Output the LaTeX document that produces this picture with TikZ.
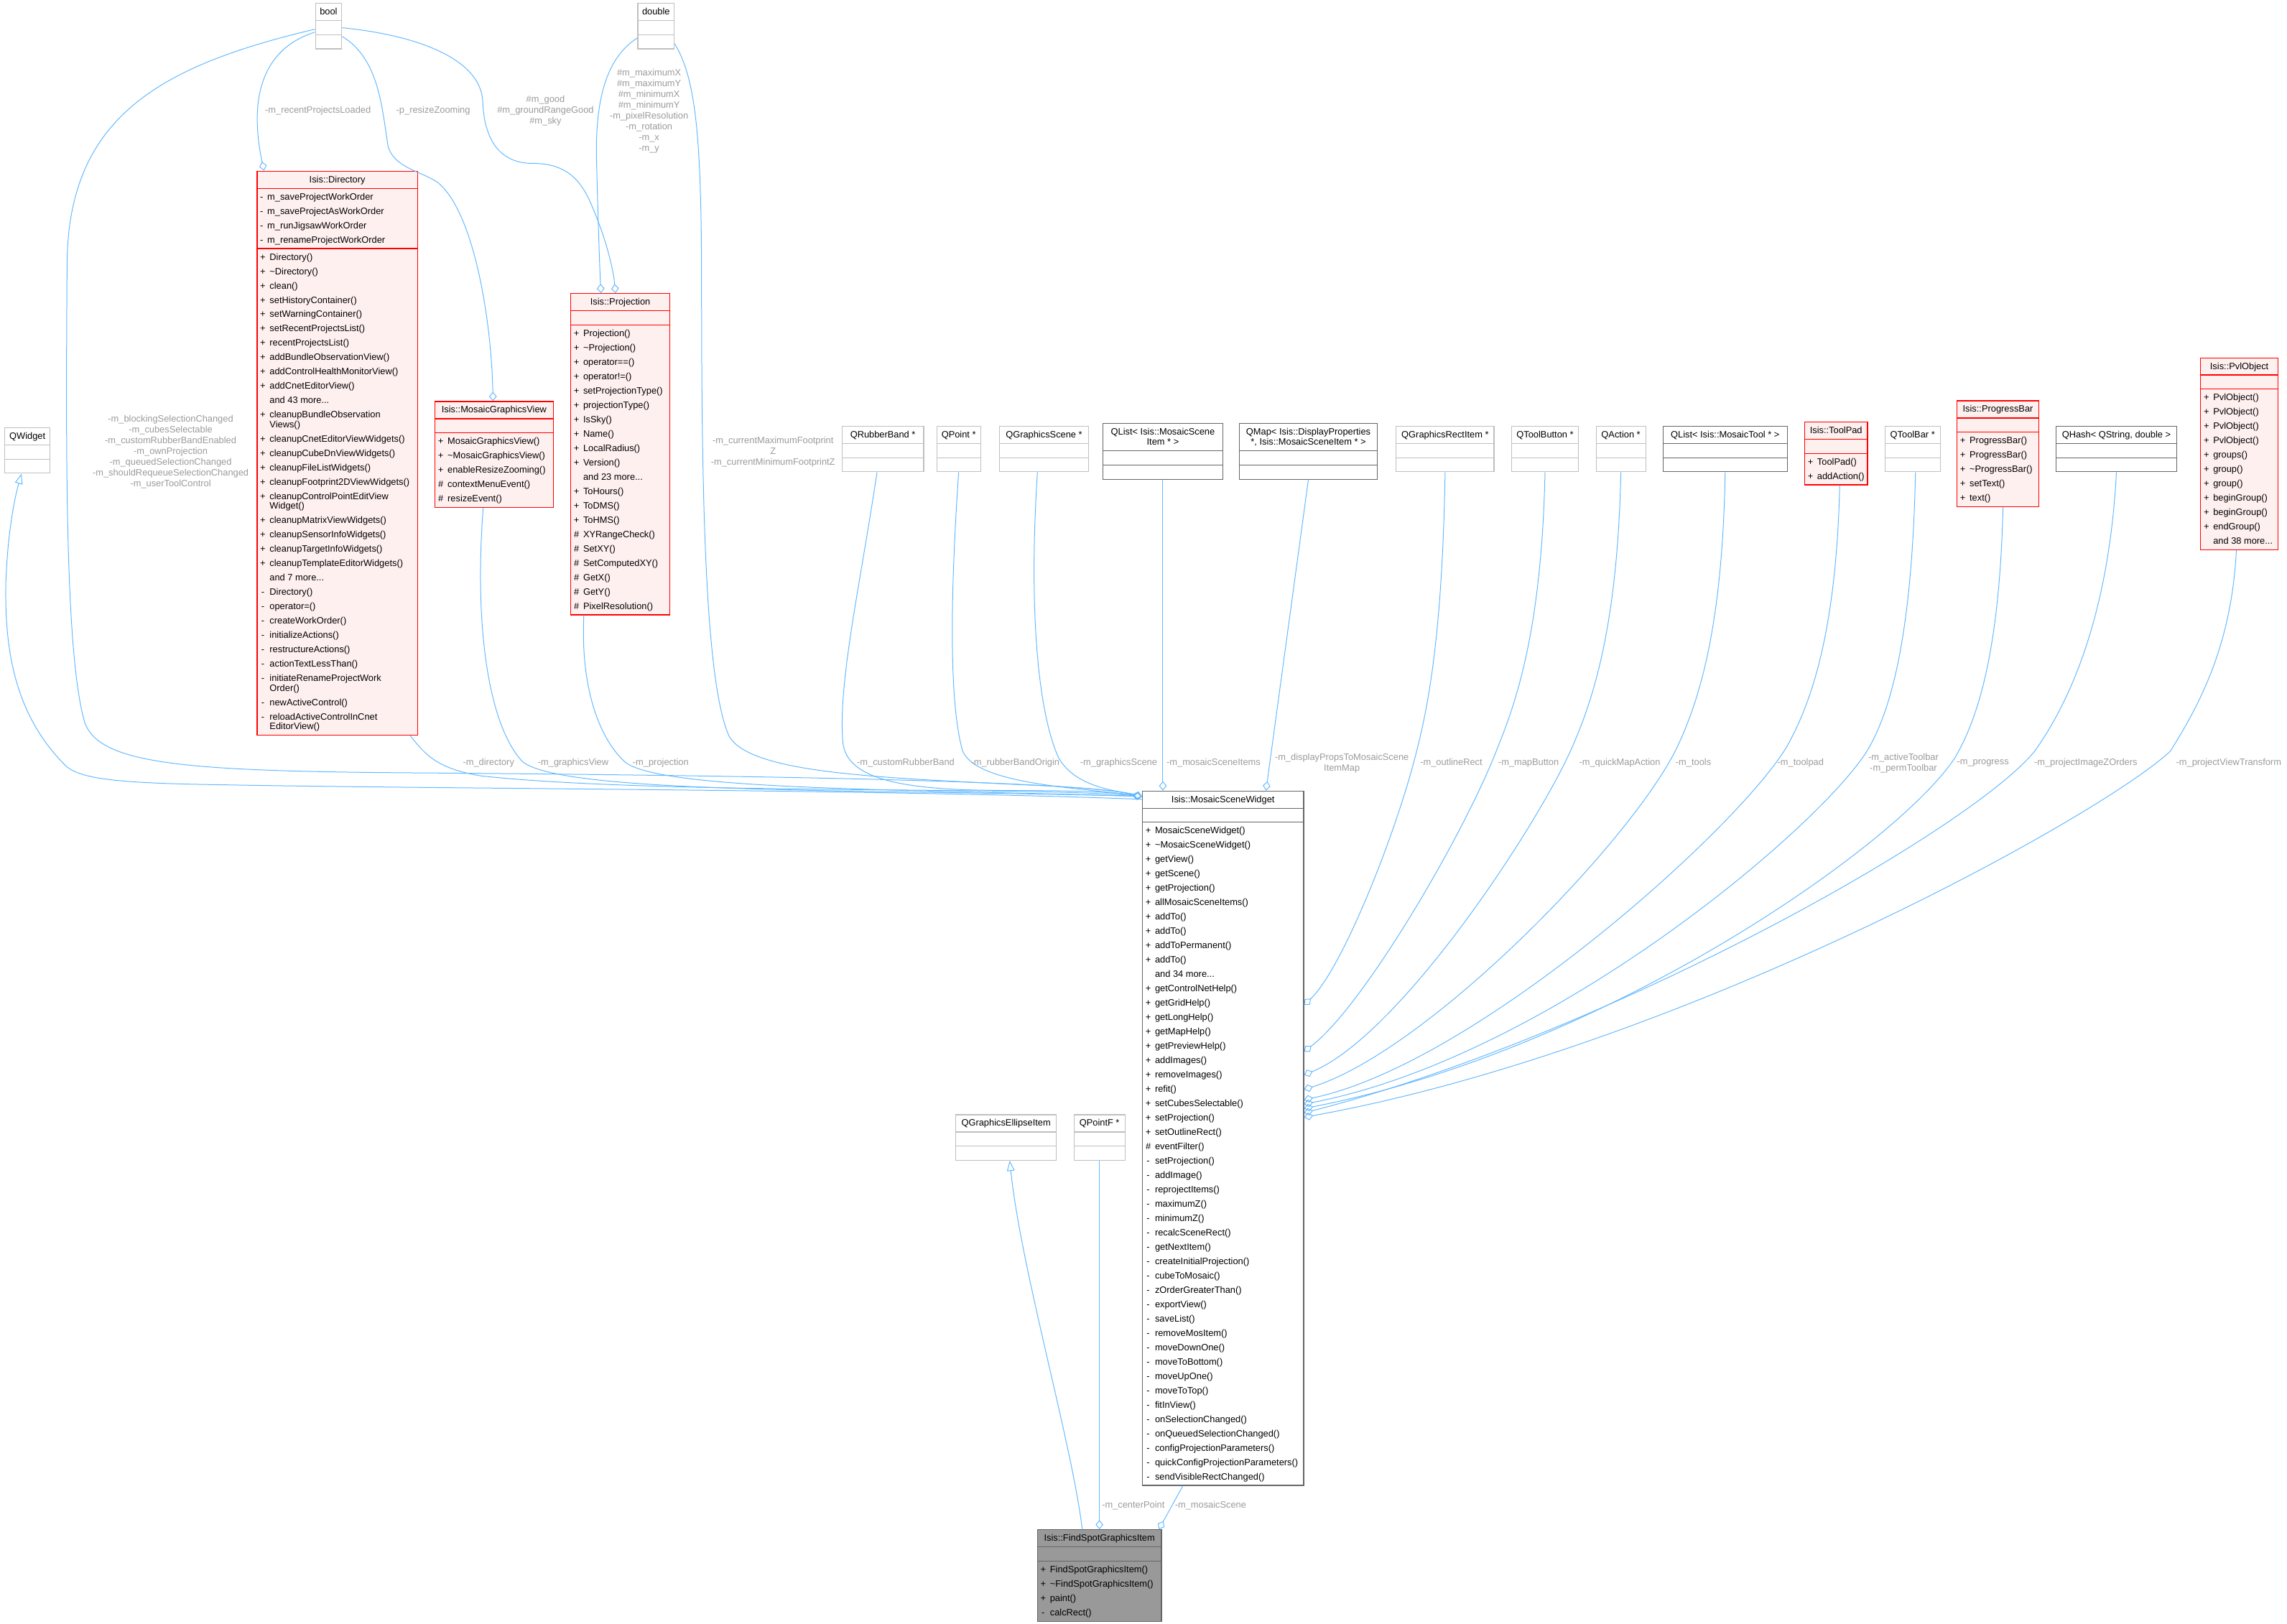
\documentclass[tikz,border=0pt]{standalone}
\usepackage{fontspec}
\setmainfont{Liberation Sans}
\usetikzlibrary{shapes.multipart,arrows.meta,calc}
\definecolor{edgeblue}{HTML}{63B8FF}
\definecolor{lblgrey}{HTML}{9A9A9A}
\definecolor{redfill}{HTML}{FFF0F0}
\definecolor{greyline}{HTML}{BFBFBF}
\definecolor{darkline}{HTML}{666666}
\definecolor{focusfill}{HTML}{999999}
\newcommand{\members}[1]{\begin{tabular}{@{}c@{\hspace{4pt}}l@{}}#1\end{tabular}}
\newcommand{\ctitle}[1]{\begin{tabular}{@{}c@{}}#1\end{tabular}}
\begin{document}
\begin{tikzpicture}[
      x=0.05cm, y=-0.05cm,
      cls/.style={rectangle split, rectangle split parts=3, draw, anchor=north west,
        line width=0.8pt, inner xsep=3pt, inner ysep=1pt,
        rectangle split part align={center,left,left},
        rectangle split empty part height=11pt, rectangle split empty part depth=0pt,
        font=\fontsize{9}{14}\selectfont, minimum width=#1},
      redcls/.style={cls=#1, draw=red, fill=redfill},
      greycls/.style={cls=#1, draw=greyline, fill=white},
      darkcls/.style={cls=#1, draw=darkline, fill=white},
      focuscls/.style={cls=#1, draw=darkline, fill=focusfill},
      conn/.style={draw=edgeblue, line width=0.7pt},
      agg/.style={conn, -{Diamond[open,length=9pt,width=7.5pt]}},
      inh/.style={conn, -{Triangle[open,length=10pt,width=7.5pt]}},
      lbl/.style={text=lblgrey, font=\fontsize{9}{10.5}\selectfont, align=center, inner sep=0pt},
    ]
      \useasboundingbox (0,0) rectangle (1568,1113);

      \node[greycls=0.9cm] (boolT) at (216,2) {\ctitle{bool}\nodepart{two}\nodepart{three}};
      \node[greycls=1.25cm] (doubleT) at (437,2) {\ctitle{double}\nodepart{two}\nodepart{three}};
      \node[greycls=1.55cm] (qwidget) at (3,293) {\ctitle{QWidget}\nodepart{two}\nodepart{three}};

      \node[redcls=5.5cm] (directory) at (176,117) {\ctitle{Isis::Directory}
        \nodepart{two}\members{- & m\_saveProjectWorkOrder\\ - & m\_saveProjectAsWorkOrder\\
          - & m\_runJigsawWorkOrder\\ - & m\_renameProjectWorkOrder}
        \nodepart{three}\members{+ & Directory()\\ + & \textasciitilde Directory()\\ + & clean()\\
          + & setHistoryContainer()\\ + & setWarningContainer()\\ + & setRecentProjectsList()\\
          + & recentProjectsList()\\ + & addBundleObservationView()\\ + & addControlHealthMonitorView()\\
          + & addCnetEditorView()\\ & and 43 more...\\ + & cleanupBundleObservation\\[-4.5pt] & Views()\\
          + & cleanupCnetEditorViewWidgets()\\ + & cleanupCubeDnViewWidgets()\\ + & cleanupFileListWidgets()\\
          + & cleanupFootprint2DViewWidgets()\\ + & cleanupControlPointEditView\\[-4.5pt] & Widget()\\
          + & cleanupMatrixViewWidgets()\\ + & cleanupSensorInfoWidgets()\\ + & cleanupTargetInfoWidgets()\\
          + & cleanupTemplateEditorWidgets()\\ & and 7 more...\\ - & Directory()\\ - & operator=()\\
          - & createWorkOrder()\\ - & initializeActions()\\ - & restructureActions()\\
          - & actionTextLessThan()\\ - & initiateRenameProjectWork\\[-4.5pt] & Order()\\
          - & newActiveControl()\\ - & reloadActiveControlInCnet\\[-4.5pt] & EditorView()}};

      \node[redcls=4.05cm] (graphicsview) at (298,275) {\ctitle{Isis::MosaicGraphicsView}
        \nodepart{two}\nodepart{three}\members{+ & MosaicGraphicsView()\\ + & \textasciitilde MosaicGraphicsView()\\
          + & enableResizeZooming()\\ \# & contextMenuEvent()\\ \# & resizeEvent()}};

      \node[redcls=3.4cm] (projection) at (391,201) {\ctitle{Isis::Projection}
        \nodepart{two}\nodepart{three}\members{+ & Projection()\\ + & \textasciitilde Projection()\\
          + & operator==()\\ + & operator!=()\\ + & setProjectionType()\\ + & projectionType()\\
          + & IsSky()\\ + & Name()\\ + & LocalRadius()\\ + & Version()\\ & and 23 more...\\
          + & ToHours()\\ + & ToDMS()\\ + & ToHMS()\\ \# & XYRangeCheck()\\ \# & SetXY()\\
          \# & SetComputedXY()\\ \# & GetX()\\ \# & GetY()\\ \# & PixelResolution()}};

      \node[greycls=2.8cm] (rubberband) at (577,292) {\ctitle{QRubberBand *}\nodepart{two}\nodepart{three}};
      \node[greycls=1.5cm] (qpoint) at (642,292) {\ctitle{QPoint *}\nodepart{two}\nodepart{three}};
      \node[greycls=3.05cm] (gscene) at (685,292) {\ctitle{QGraphicsScene *}\nodepart{two}\nodepart{three}};
      \node[darkcls=4.1cm] (sceneitems) at (756,290) {\ctitle{QList< Isis::MosaicScene\\[-4pt]Item * >}\nodepart{two}\nodepart{three}};
      \node[darkcls=4.725cm] (dispmap) at (849.5,290) {\ctitle{QMap< Isis::DisplayProperties\\[-4pt]*, Isis::MosaicSceneItem * >}\nodepart{two}\nodepart{three}};
      \node[greycls=3.35cm] (rectitem) at (957,292) {\ctitle{QGraphicsRectItem *}\nodepart{two}\nodepart{three}};
      \node[greycls=2.3cm] (toolbutton) at (1036,292) {\ctitle{QToolButton *}\nodepart{two}\nodepart{three}};
      \node[greycls=1.7cm] (qaction) at (1094,292) {\ctitle{QAction *}\nodepart{two}\nodepart{three}};
      \node[darkcls=4.25cm] (toollist) at (1140,292) {\ctitle{QList< Isis::MosaicTool * >}\nodepart{two}\nodepart{three}};
      \node[redcls=2.15cm] (toolpad) at (1237,289) {\ctitle{Isis::ToolPad}
        \nodepart{two}\nodepart{three}\members{+ & ToolPad()\\ + & addAction()}};
      \node[greycls=1.9cm] (toolbar) at (1292,292) {\ctitle{QToolBar *}\nodepart{two}\nodepart{three}};
      \node[redcls=2.8cm] (progressbar) at (1341.5,274.5) {\ctitle{Isis::ProgressBar}
        \nodepart{two}\nodepart{three}\members{+ & ProgressBar()\\ + & ProgressBar()\\
          + & \textasciitilde ProgressBar()\\ + & setText()\\ + & text()}};
      \node[darkcls=4.125cm] (zorders) at (1409.5,292) {\ctitle{QHash< QString, double >}\nodepart{two}\nodepart{three}};
      \node[redcls=2.65cm] (pvlobject) at (1508.5,245) {\ctitle{Isis::PvlObject}
        \nodepart{two}\nodepart{three}\members{+ & PvlObject()\\ + & PvlObject()\\ + & PvlObject()\\
          + & PvlObject()\\ + & groups()\\ + & group()\\ + & group()\\ + & beginGroup()\\
          + & beginGroup()\\ + & endGroup()\\ & and 38 more...}};

      \node[darkcls=5.525cm] (scenewidget) at (783,542) {\ctitle{Isis::MosaicSceneWidget}
        \nodepart{two}\nodepart{three}\members{+ & MosaicSceneWidget()\\ + & \textasciitilde MosaicSceneWidget()\\
          + & getView()\\ + & getScene()\\ + & getProjection()\\ + & allMosaicSceneItems()\\
          + & addTo()\\ + & addTo()\\ + & addToPermanent()\\ + & addTo()\\ & and 34 more...\\
          + & getControlNetHelp()\\ + & getGridHelp()\\ + & getLongHelp()\\ + & getMapHelp()\\
          + & getPreviewHelp()\\ + & addImages()\\ + & removeImages()\\ + & refit()\\
          + & setCubesSelectable()\\ + & setProjection()\\ + & setOutlineRect()\\ \# & eventFilter()\\
          - & setProjection()\\ - & addImage()\\ - & reprojectItems()\\ - & maximumZ()\\ - & minimumZ()\\
          - & recalcSceneRect()\\ - & getNextItem()\\ - & createInitialProjection()\\ - & cubeToMosaic()\\
          - & zOrderGreaterThan()\\ - & exportView()\\ - & saveList()\\ - & removeMosItem()\\
          - & moveDownOne()\\ - & moveToBottom()\\ - & moveUpOne()\\ - & moveToTop()\\ - & fitInView()\\
          - & onSelectionChanged()\\ - & onQueuedSelectionChanged()\\ - & configProjectionParameters()\\
          - & quickConfigProjectionParameters()\\ - & sendVisibleRectChanged()}};

      \node[greycls=3.45cm] (ellipseitem) at (655,764) {\ctitle{QGraphicsEllipseItem}\nodepart{two}\nodepart{three}};
      \node[greycls=1.75cm] (qpointf) at (736,764) {\ctitle{QPointF *}\nodepart{two}\nodepart{three}};
      \node[focuscls=4.25cm] (findspot) at (711,1048.5) {\ctitle{Isis::FindSpotGraphicsItem}
        \nodepart{two}\nodepart{three}\members{+ & FindSpotGraphicsItem()\\ + & \textasciitilde FindSpotGraphicsItem()\\
          + & paint()\\ - & calcRect()}};

      \draw[agg] ($(boolT.north west)+(0,20)$) .. controls (175,35) and (172,75) .. ($(directory.north west)+(5,0)$);
      \draw[agg] ($(boolT.north east)+(0,23)$) .. controls (260,40) and (262,75) .. (266,100)
        .. controls (270,115) and (288,117) .. (300,125) .. controls (325,145) and (337,220) .. ($(graphicsview.north west)+(40,0)$);
      \draw[agg] ($(boolT.north east)+(0,17)$) .. controls (285,24) and (330,40) .. (331,70)
        .. controls (332,95) and (342,112) .. (365,112) .. controls (385,112) and (396,120) .. (404,137)
        .. controls (413,157) and (420,180) .. ($(projection.north west)+(31,0)$);
      \draw[agg] ($(doubleT.north west)+(0,24)$) .. controls (415,40) and (408,70) .. (409,110)
        .. controls (410,150) and (411,180) .. ($(projection.north west)+(21,0)$);
      \draw[agg] ($(doubleT.north east)+(0,28)$) .. controls (478,55) and (481,100) .. (481,200)
        .. controls (481,350) and (484,470) .. (500,505) .. controls (515,530) and (600,533) .. (700,538)
        .. controls (750,540) and (770,543) .. ($(scenewidget.north west)+(0,4)$);
      \draw[agg] ($(boolT.north west)+(0,18)$) .. controls (110,45) and (47,80) .. (46,180)
        .. controls (45,320) and (45,450) .. (58,495) .. controls (68,525) and (130,529) .. (300,530)
        .. controls (550,532) and (740,536) .. ($(scenewidget.north west)+(0,4)$);
      \draw[inh] ($(scenewidget.north west)+(0,6)$) .. controls (600,541) and (300,541) .. (150,538)
        .. controls (80,537) and (55,534) .. (45,525) .. controls (12,492) and (3,450) .. (4,400)
        .. controls (5,370) and (9,345) .. ($(qwidget.south)+(-4,0)$);
      \draw[agg] ($(directory.south)+(50,0)$) .. controls (292,518) and (300,527) .. (330,532)
        .. controls (450,545) and (700,539) .. ($(scenewidget.north west)+(0,4)$);
      \draw[agg] ($(graphicsview.south)+(-7.5,0)$) .. controls (325,430) and (335,497) .. (358,522)
        .. controls (385,545) and (600,541) .. ($(scenewidget.north west)+(0,4)$);
      \draw[agg] ($(projection.south)+(-25,0)$) .. controls (398,470) and (410,505) .. (428,522)
        .. controls (450,542) and (620,541) .. ($(scenewidget.north west)+(0,4)$);
      \draw[agg] ($(rubberband.south)+(-4,0)$) .. controls (590,400) and (574,470) .. (578,510)
        .. controls (582,540) and (640,542) .. (700,542) .. controls (750,542) and (770,544) .. ($(scenewidget.north west)+(0,4)$);
      \draw[agg] (qpoint.south) .. controls (652,400) and (650,480) .. (660,515)
        .. controls (670,538) and (740,540) .. ($(scenewidget.north west)+(0,4)$);
      \draw[agg] ($(gscene.south)+(-4.5,0)$) .. controls (705,420) and (712,490) .. (726,520)
        .. controls (738,540) and (765,542) .. ($(scenewidget.north west)+(0,4)$);
      \draw[agg] (sceneitems.south) -- (sceneitems.south |- scenewidget.north);
      \draw[agg] (dispmap.south) -- ($(scenewidget.north west)+(85,0)$);

      \draw[agg] (rectitem.south) .. controls (989,430) and (980,480) .. (972,512)
        .. controls (958,570) and (920,665) .. ($(scenewidget.north east)+(0,147)$);
      \draw[agg] (toolbutton.south) .. controls (1057,430) and (1040,480) .. (1027,512)
        .. controls (1005,570) and (935,690) .. ($(scenewidget.north east)+(0,179)$);
      \draw[agg] (qaction.south) .. controls (1109,430) and (1092,480) .. (1078,512)
        .. controls (1055,565) and (960,710) .. ($(scenewidget.north east)+(0,195)$);
      \draw[agg] (toollist.south) .. controls (1181,430) and (1165,480) .. (1150,512)
        .. controls (1120,575) and (980,720) .. ($(scenewidget.north east)+(0,205)$);
      \draw[agg] ($(toolpad.south)+(2.5,0)$) .. controls (1259,430) and (1243,480) .. (1225,512)
        .. controls (1190,570) and (1010,730) .. ($(scenewidget.north east)+(0,212)$);
      \draw[agg] ($(toolbar.south)+(2,0)$) .. controls (1311,430) and (1298,485) .. (1280,515)
        .. controls (1245,570) and (1060,725) .. ($(scenewidget.north east)+(0,215)$);
      \draw[agg] ($(progressbar.south)+(3.5,0)$) .. controls (1371,440) and (1358,490) .. (1340,520)
        .. controls (1300,580) and (1100,720) .. ($(scenewidget.north east)+(0,218)$);
      \draw[agg] (zorders.south) .. controls (1446,420) and (1420,480) .. (1395,515)
        .. controls (1350,570) and (1100,710) .. ($(scenewidget.north east)+(0,221)$);
      \draw[agg] ($(pvlobject.south)+(-2,0)$) .. controls (1530,440) and (1510,480) .. (1488,515)
        .. controls (1440,560) and (1150,720) .. ($(scenewidget.north east)+(0,224)$);

      \draw[inh] ($(findspot.north west)+(31,0)$) .. controls (735,990) and (700,870) .. ($(ellipseitem.south)+(2.5,0)$);
      \draw[agg] (qpointf.south) -- (qpointf.south |- findspot.north);
      \draw[agg] ($(scenewidget.south west)+(28,0)$) -- ($(findspot.north east)+(-2,0)$);

      \node[lbl] (l-recent) at (218,76) {-m\_recentProjectsLoaded};
      \node[lbl] (l-resize) at (297,76) {-p\_resizeZooming};
      \node[lbl] (l-good) at (374,76) {\#m\_good\\\#m\_groundRangeGood\\\#m\_sky};
      \node[lbl] (l-extent) at (445,76) {\#m\_maximumX\\\#m\_maximumY\\\#m\_minimumX\\\#m\_minimumY\\-m\_pixelResolution\\-m\_rotation\\-m\_x\\-m\_y};
      \node[lbl] (l-flags) at (117,310) {-m\_blockingSelectionChanged\\-m\_cubesSelectable\\-m\_customRubberBandEnabled\\-m\_ownProjection\\-m\_queuedSelectionChanged\\-m\_shouldRequeueSelectionChanged\\-m\_userToolControl};
      \node[lbl] (l-footprint) at (530,310) {-m\_currentMaximumFootprint\\Z\\-m\_currentMinimumFootprintZ};
      \node[lbl] (l-directory) at (335,523) {-m\_directory};
      \node[lbl] (l-view) at (393,523) {-m\_graphicsView};
      \node[lbl] (l-projection) at (453,523) {-m\_projection};
      \node[lbl] (l-rubber) at (621,523) {-m\_customRubberBand};
      \node[lbl] (l-origin) at (696,523) {-m\_rubberBandOrigin};
      \node[lbl] (l-scene) at (767,523) {-m\_graphicsScene};
      \node[lbl] (l-items) at (832,523) {-m\_mosaicSceneItems};
      \node[lbl] (l-props) at (920,523.5) {-m\_displayPropsToMosaicScene\\ItemMap};
      \node[lbl] (l-outline) at (995,523) {-m\_outlineRect};
      \node[lbl] (l-map) at (1048,523) {-m\_mapButton};
      \node[lbl] (l-quick) at (1110.5,523) {-m\_quickMapAction};
      \node[lbl] (l-tools) at (1161,523) {-m\_tools};
      \node[lbl] (l-toolpad) at (1234.5,523) {-m\_toolpad};
      \node[lbl] (l-toolbar) at (1305,523.5) {-m\_activeToolbar\\-m\_permToolbar};
      \node[lbl] (l-progress) at (1359.5,523) {-m\_progress};
      \node[lbl] (l-zorders) at (1430,523) {-m\_projectImageZOrders};
      \node[lbl] (l-transform) at (1528,523) {-m\_projectViewTransform};
      \node[lbl] (l-center) at (777,1032) {-m\_centerPoint};
      \node[lbl] (l-mosaic) at (830,1032) {-m\_mosaicScene};
    \end{tikzpicture}
\end{document}
